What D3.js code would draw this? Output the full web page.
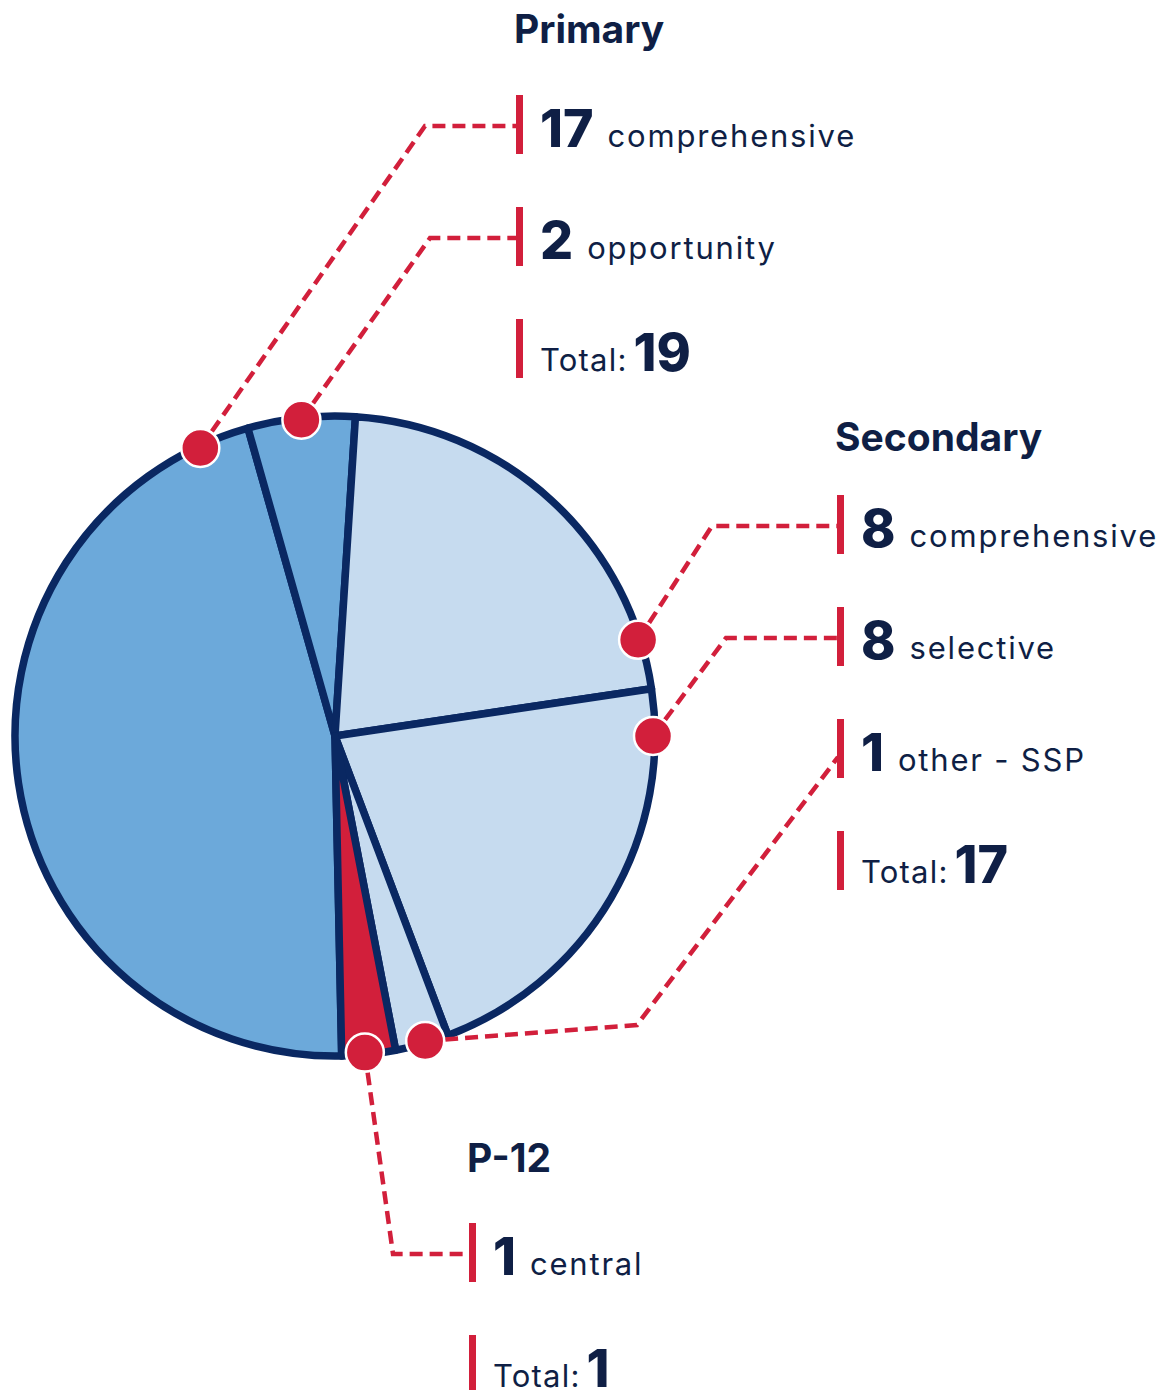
<!DOCTYPE html>
<html><head><meta charset="utf-8">
<script src="https://cdn.jsdelivr.net/npm/d3@7"></script>
<style>
html,body{margin:0;padding:0;background:#fff;}
svg{display:block;}
text{font-family:Inter, "Open Sans", sans-serif;fill:#0f1f45;}
</style></head>
<body>
<svg id="chart" width="1169" height="1390"></svg>
<script>
// ---- data ----
const groups = ["Primary", "Primary", "Secondary", "Secondary", "Secondary", "P-12"];
const categories = ["comprehensive", "opportunity", "comprehensive", "selective", "other - SSP", "central"];
const values = [17, 2, 8, 8, 1, 1];
const groupOrder = ["Primary", "Secondary", "P-12"];

// ---- style / layout ----
const NAVY = "#0a2862", RED = "#d21f3b";
const fills = ["#6ca9da", "#6ca9da", "#c6dbef", "#c6dbef", "#c6dbef", RED];
const cx = 335, cy = 736, R = 320;
const startDeg = 178.8;
const dotFrac = [0.944, 0.5, 0.883, 0.109, 0.43, 0.57];
const groupLayout = {
  "Primary":   {barX: 517, y0: 124, titleX: 514, titleY: 43},
  "Secondary": {barX: 838, y0: 524, titleX: 835, titleY: 451},
  "P-12":      {barX: 470, y0: 1252, titleX: 467, titleY: 1172}
};
const rowGap = 112;
const elbows = [
  {x: 425}, {x: 430}, {x: 712}, {x: 726}, {knee: [637, 1025], endDy: 9}, {x: 393}
];

const data = values.map((v, i) => ({group: groups[i], cat: categories[i], value: v, i}));
const svg = d3.select("#chart");

const pie = d3.pie().sort(null).value(d => d.value)
  .startAngle(startDeg * Math.PI / 180)
  .endAngle(startDeg * Math.PI / 180 + 2 * Math.PI);
const arcs = pie(data);
const arc = d3.arc().innerRadius(0).outerRadius(R);

const g = svg.append("g").attr("transform", `translate(${cx},${cy})`);
g.selectAll("path.slice").data(arcs).join("path")
  .attr("class", "slice")
  .attr("d", arc)
  .attr("fill", d => fills[d.data.i])
  .attr("stroke", NAVY).attr("stroke-width", 7.5).attr("stroke-linejoin", "round");

const totals = d3.rollup(data, v => d3.sum(v, d => d.value), d => d.group);
const rowY = {};
groupOrder.forEach(gname => {
  const L = groupLayout[gname];
  data.filter(d => d.group === gname).forEach((d, k) => rowY[d.i] = L.y0 + k * rowGap);
});

// leader lines
const rDot = R - 2;
const leaders = svg.append("g");
arcs.forEach((a, idx) => {
  const ang = a.startAngle + (a.endAngle - a.startAngle) * dotFrac[idx];
  const px = cx + rDot * Math.sin(ang), py = cy - rDot * Math.cos(ang);
  a.dot = [px, py];
  const L = groupLayout[a.data.group];
  const e = elbows[idx];
  let pts;
  if (e.knee) {
    pts = [[px, py], e.knee, [L.barX, rowY[a.data.i] + e.endDy]];
  } else {
    const yy = rowY[a.data.i] + 2;
    pts = [[px, py], [e.x, yy], [L.barX, yy]];
  }
  leaders.append("path")
    .attr("d", d3.line()(pts))
    .attr("fill", "none").attr("stroke", RED).attr("stroke-width", 4.5)
    .attr("stroke-dasharray", "13,7");
});

// dots
svg.append("g").selectAll("circle").data(arcs).join("circle")
  .attr("cx", d => d.dot[0]).attr("cy", d => d.dot[1]).attr("r", 19)
  .attr("fill", RED).attr("stroke", "#fff").attr("stroke-width", 2.5);

// labels
const lab = svg.append("g");
groupOrder.forEach(gname => {
  const L = groupLayout[gname];
  lab.append("text").attr("x", L.titleX).attr("y", L.titleY)
    .attr("font-size", 39).attr("font-weight", 700).text(gname);
  const items = data.filter(d => d.group === gname);
  const rows = items.map(d => ({num: d.value, label: d.cat}));
  rows.push({total: totals.get(gname)});
  rows.forEach((r, k) => {
    const yc = L.y0 + k * rowGap;
    lab.append("rect").attr("x", L.barX - 1).attr("y", yc - 29).attr("width", 7).attr("height", 59)
      .attr("fill", RED);
    const t = lab.append("text").attr("x", L.barX + 23).attr("y", yc + 23);
    if (r.total === undefined) {
      t.append("tspan").attr("font-size", 52).attr("font-weight", 800).text(r.num);
      t.append("tspan").attr("dx", 14).attr("font-size", 31).attr("font-weight", 400)
        .attr("letter-spacing", 1.8).text(r.label);
    } else {
      t.append("tspan").attr("font-size", 31).attr("font-weight", 400)
        .attr("letter-spacing", 1.2).text("Total:");
      t.append("tspan").attr("dx", 6).attr("font-size", 52).attr("font-weight", 800).text(r.total);
    }
  });
});
</script>
</body></html>
